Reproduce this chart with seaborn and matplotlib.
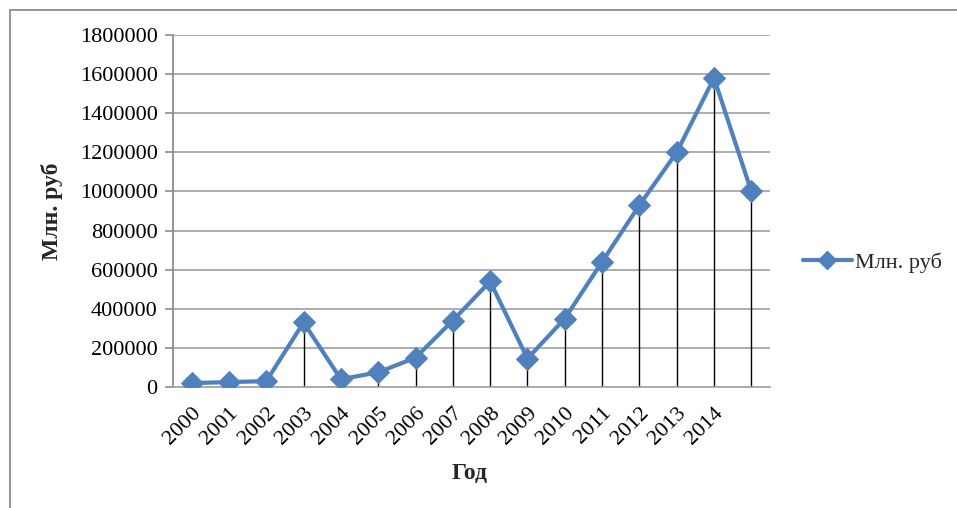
import matplotlib
matplotlib.use("Agg")
import matplotlib.pyplot as plt
import seaborn as sns
import pandas as pd
from matplotlib.lines import Line2D
from matplotlib.patches import Rectangle

# Annual values, mln rubles (2000-2015)
years = [2000, 2001, 2002, 2003, 2004, 2005, 2006, 2007,
         2008, 2009, 2010, 2011, 2012, 2013, 2014, 2015]
values = [20000, 25000, 30000, 330000, 40000, 75000, 150000, 340000,
          540000, 145000, 350000, 640000, 930000, 1200000, 1580000, 1000000]
# Category labels shown under the axis
tick_labels = ["2000", "2001", "2002", "2003", "2004", "2005", "2006", "2007",
               "2008", "2009", "2010", "2011", "2012", "2013", "2014"]
series_name = "Млн. руб"
y_ticks = [0, 200000, 400000, 600000, 800000, 1000000,
           1200000, 1400000, 1600000, 1800000]

sns.set_theme(style="white")
plt.rcParams["font.family"] = ["Liberation Serif", "DejaVu Serif"]

df = pd.DataFrame({"pos": list(range(len(years))), "value": values})

fig = plt.figure(figsize=(9.57, 5.08), dpi=100)
fig.patch.set_facecolor("white")

# Chart frame
fig.add_artist(Rectangle((10 / 957, -0.05), 1.1, 1 - 10 / 508 + 0.05,
                         transform=fig.transFigure, fill=False,
                         edgecolor="#8c8c8c", linewidth=1.3))

ax = fig.add_axes([173 / 957, 1 - 387 / 508, (770 - 173) / 957, (387 - 35) / 508])

blue = "#4F81BD"

# Drop lines from each point to the axis
ax.vlines(df["pos"], 0, df["value"], colors="black", linewidth=1.0, zorder=2)

sns.lineplot(data=df, x="pos", y="value", ax=ax, color=blue, linewidth=3.0,
             marker="D", markersize=11, markeredgecolor=blue, zorder=3,
             legend=False)

ax.set_xlim(-0.5, len(years) - 0.5)
ax.set_ylim(0, 1800000)
ax.set_yticks(y_ticks)
ax.set_yticklabels([str(v) for v in y_ticks], fontsize=16)
ax.set_xticks(range(len(tick_labels)))
ax.set_xticklabels(tick_labels, rotation=45, ha="right", va="top",
                   rotation_mode="anchor", fontsize=16)

ax.yaxis.grid(True, color="#a6a6a6", linewidth=1.3)
ax.set_axisbelow(True)
for side in ["top", "right"]:
    ax.spines[side].set_visible(False)
ax.spines["left"].set_color("#8c8c8c")
ax.spines["bottom"].set_color("#a6a6a6")
ax.spines["left"].set_linewidth(1.3)
ax.spines["bottom"].set_linewidth(1.3)
ax.tick_params(axis="y", which="both", left=True, length=6, width=1.2,
               color="#8c8c8c", pad=5, labelcolor="black")
ax.tick_params(axis="x", which="both", bottom=False, pad=6, labelcolor="black")

ax.set_xlabel("Год", fontsize=17, fontweight="bold")
ax.set_ylabel(series_name, fontsize=17, fontweight="bold")
ax.xaxis.set_label_coords((470 - 173) / (770 - 173), -(463 - 387) / (387 - 35))
ax.yaxis.set_label_coords(-(173 - 63) / (770 - 173), (387 - 211) / (387 - 35))

handle = Line2D([], [], color=blue, linewidth=3.0, marker="D", markersize=9,
                markeredgecolor=blue)
fig.legend([handle], [series_name], loc="center left",
           bbox_to_anchor=(803 / 957, 1 - 263 / 508), frameon=False,
           fontsize=16, handlelength=2.2, handletextpad=0.15,
           borderaxespad=0, borderpad=0)

fig.savefig("out.png", dpi=100, facecolor="white")
